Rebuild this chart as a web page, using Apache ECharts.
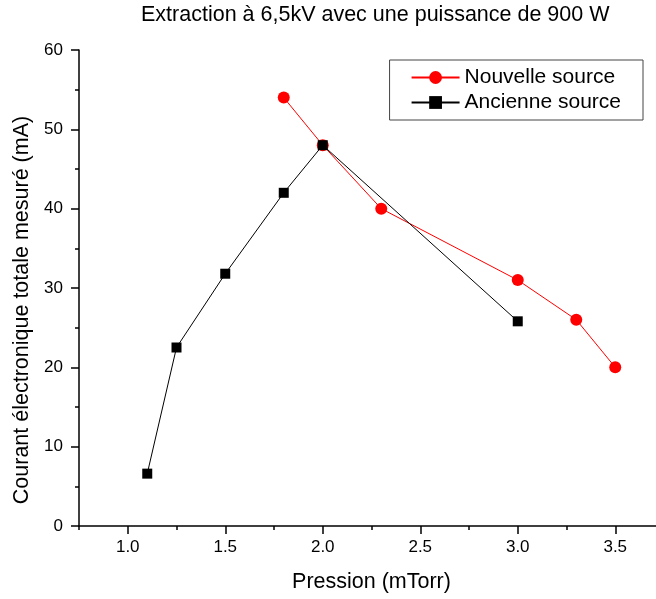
<!DOCTYPE html>
<html>
<head>
<meta charset="utf-8">
<script src="https://cdn.jsdelivr.net/npm/echarts@6/dist/echarts.min.js"></script>
<style>
  html, body { margin: 0; padding: 0; background: #fff; }
  #chart { width: 656px; height: 599px; }
</style>
</head>
<body>
<div id="chart"></div>
<script>
// données
var nouvellePression = [1.8, 2.0, 2.3, 3.0, 3.3, 3.5];
var nouvelleCourant = [54, 48, 40, 31, 26, 20];
var anciennePression = [1.1, 1.25, 1.5, 1.8, 2.0, 3.0];
var ancienneCourant = [6.6, 22.5, 31.8, 42, 48, 25.8];
var xTicks = [1.0, 1.5, 2.0, 2.5, 3.0, 3.5];

function pairs(xs, ys) {
  var out = [];
  for (var i = 0; i < xs.length; i++) out.push([xs[i], ys[i]]);
  return out;
}

var font = 'Liberation Sans, Arial, sans-serif';
var chart = echarts.init(document.getElementById('chart'));
chart.setOption({
  animation: false,
  backgroundColor: '#fff',
  title: {
    text: 'Extraction à 6,5kV avec une puissance de 900 W',
    left: 141,
    top: 4,
    padding: 0,
    textStyle: { fontFamily: font, fontSize: 21.5, fontWeight: 'normal', color: '#000' }
  },
  legend: {
    orient: 'vertical',
    right: 13,
    top: 60,
    padding: [7, 22, 7, 21],
    itemWidth: 48,
    itemHeight: 16,
    itemGap: 4,
    borderColor: '#444',
    borderWidth: 1,
    textStyle: { fontFamily: font, fontSize: 21, color: '#000' },
    data: ['Nouvelle source', 'Ancienne source']
  },
  // l'axe des x continue jusqu'à 3.75, au-delà du bord droit
  grid: { left: 79, width: 585, top: 50, bottom: 73, outerBoundsMode: 'none' },
  xAxis: [{
    type: 'value',
    position: 'bottom',
    min: 0.75,
    max: 3.75,
    name: 'Pression (mTorr)',
    nameLocation: 'middle',
    nameGap: 45,
    nameTextStyle: { fontFamily: font, fontSize: 21.5, color: '#000' },
    axisLine: { lineStyle: { color: '#000', width: 1.5 } },
    axisTick: { customValues: xTicks, length: 8, lineStyle: { color: '#000', width: 1.5 } },
    axisLabel: {
      customValues: xTicks,
      fontFamily: font, fontSize: 17, color: '#000', margin: 13,
      formatter: function (v) { return v.toFixed(1); }
    },
    splitLine: { show: false }
  }, {
    // petites graduations
    type: 'value',
    position: 'bottom',
    min: 0.75,
    max: 3.75,
    interval: 0.25,
    axisLine: { show: false },
    axisTick: { length: 4, lineStyle: { color: '#000', width: 1.5 } },
    axisLabel: { show: false },
    splitLine: { show: false }
  }],
  yAxis: {
    type: 'value',
    min: 0,
    max: 60,
    interval: 10,
    name: 'Courant électronique totale mesuré (mA)',
    nameLocation: 'middle',
    nameGap: 45,
    nameTextStyle: { fontFamily: font, fontSize: 21.5, color: '#000', padding: [0, 44, 0, 0] },
    axisLine: { show: true, lineStyle: { color: '#000', width: 1.5 } },
    axisTick: { show: true, length: 8, lineStyle: { color: '#000', width: 1.5 } },
    minorTick: { show: true, splitNumber: 2, length: 4, lineStyle: { color: '#000', width: 1.5 } },
    axisLabel: { fontFamily: font, fontSize: 17, color: '#000', margin: 16 },
    splitLine: { show: false }
  },
  series: [{
    name: 'Nouvelle source',
    type: 'line',
    xAxisIndex: 0,
    data: pairs(nouvellePression, nouvelleCourant),
    symbol: 'circle',
    symbolSize: 12,
    color: '#ff0000',
    lineStyle: { color: '#ff0000', width: 1 },
    itemStyle: { color: '#ff0000' }
  }, {
    name: 'Ancienne source',
    type: 'line',
    xAxisIndex: 0,
    data: pairs(anciennePression, ancienneCourant),
    symbol: 'rect',
    symbolSize: 10,
    color: '#000',
    lineStyle: { color: '#000', width: 1 },
    itemStyle: { color: '#000' }
  }]
});
</script>
</body>
</html>
